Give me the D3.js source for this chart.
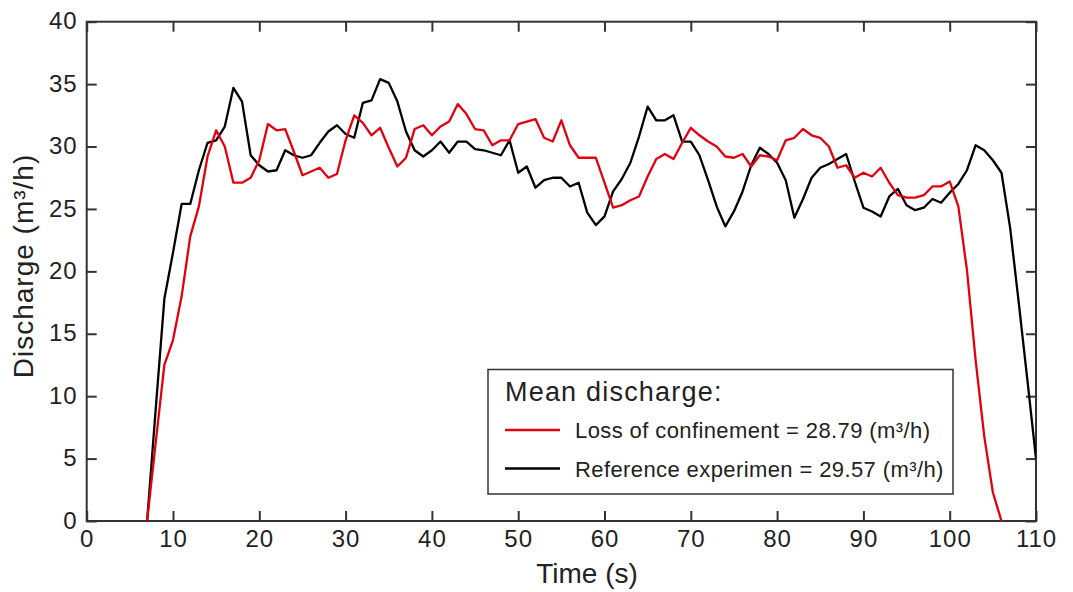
<!DOCTYPE html>
<html>
<head>
<meta charset="utf-8">
<script src="https://cdn.jsdelivr.net/npm/d3@7"></script>
<style>
  body { margin: 0; background: #fff; }
  text { font-family: "Liberation Sans", Arial, Helvetica, sans-serif; fill: #222; }
</style>
</head>
<body>
<svg id="chart"></svg>
<script>
// time in seconds, one sample per second
const timeLoss = d3.range(7, 107);
const lossValues = [
  0, 6.3, 12.5, 14.5, 18.0, 22.8, 25.2, 29.2, 31.3, 30.0,
  27.1, 27.1, 27.5, 28.9, 31.8, 31.3, 31.4, 29.6, 27.7, 28.0,
  28.3, 27.5, 27.8, 30.5, 32.5, 31.9, 30.9, 31.5, 29.9, 28.4,
  29.1, 31.4, 31.7, 30.9, 31.6, 32.0, 33.4, 32.6, 31.4, 31.3,
  30.1, 30.5, 30.5, 31.8, 32.0, 32.2, 30.7, 30.4, 32.1, 30.1,
  29.1, 29.1, 29.1, 27.1, 25.1, 25.3, 25.7, 26.0, 27.6, 29.0,
  29.4, 29.0, 30.3, 31.5, 30.9, 30.4, 30.0, 29.2, 29.1, 29.4,
  28.4, 29.3, 29.2, 28.9, 30.5, 30.7, 31.4, 30.9, 30.7, 30.0,
  28.3, 28.5, 27.5, 27.9, 27.6, 28.3, 27.1, 26.1, 25.9, 25.9,
  26.1, 26.8, 26.8, 27.2, 25.2, 20.1, 12.9, 6.8, 2.3, 0
];
const timeRef = d3.range(7, 111);
const refValues = [
  0, 9.0, 17.8, 21.5, 25.4, 25.4, 28.1, 30.3, 30.5, 31.6,
  34.7, 33.6, 29.3, 28.5, 28.0, 28.1, 29.7, 29.3, 29.1, 29.3,
  30.3, 31.2, 31.7, 31.0, 30.7, 33.5, 33.7, 35.4, 35.1, 33.6,
  31.2, 29.7, 29.2, 29.7, 30.4, 29.5, 30.4, 30.4, 29.8, 29.7,
  29.5, 29.3, 30.5, 27.9, 28.4, 26.7, 27.3, 27.5, 27.5, 26.8,
  27.1, 24.7, 23.7, 24.4, 26.4, 27.4, 28.7, 30.8, 33.2, 32.1,
  32.1, 32.5, 30.4, 30.4, 29.3, 27.3, 25.2, 23.6, 24.8, 26.4,
  28.5, 29.9, 29.4, 28.7, 27.3, 24.3, 25.8, 27.5, 28.3, 28.6,
  29.0, 29.4, 27.2, 25.1, 24.8, 24.4, 26.0, 26.6, 25.3, 24.9,
  25.1, 25.8, 25.5, 26.3, 27.0, 28.1, 30.1, 29.7, 28.9, 27.9,
  23.5, 17.5, 11.3, 5.0
];
const xTicks = d3.range(0, 111, 10);
const yTicks = d3.range(0, 41, 5);
const legendTitle = "Mean discharge:";
const legendLabels = ["Loss of confinement = 28.79 (m³/h)", "Reference experimen = 29.57 (m³/h)"];
const seriesColors = ["#e3000f", "#000000"];

const width = 1073, height = 592;
const margin = {left: 86.7, right: 37, top: 21.7, bottom: 71};
const svg = d3.select("#chart").attr("width", width).attr("height", height);

const x = d3.scaleLinear().domain([0, 110]).range([margin.left, width - margin.right]);
const y = d3.scaleLinear().domain([0, 40]).range([height - margin.bottom, margin.top]);

const axisColor = "#333";

// bottom axis, ticks pointing inside
const gx = svg.append("g")
  .attr("transform", "translate(0," + y(0) + ")")
  .call(d3.axisBottom(x).tickValues(xTicks).tickSize(-10).tickPadding(9));
gx.select(".domain").remove();
gx.selectAll("text").style("font-size", "24px").style("letter-spacing", "1px").attr("fill", "#222");

// top ticks
const gxTop = svg.append("g")
  .attr("transform", "translate(0," + y(40) + ")")
  .call(d3.axisTop(x).tickValues(xTicks).tickSize(-10).tickFormat(""));
gxTop.select(".domain").remove();

// left axis
const gy = svg.append("g")
  .attr("transform", "translate(" + x(0) + ",0)")
  .call(d3.axisLeft(y).tickValues(yTicks).tickSize(-10).tickPadding(9));
gy.select(".domain").remove();
gy.selectAll("text").style("font-size", "24px").style("letter-spacing", "1px")
  .attr("fill", "#222").attr("dy", "0.3em");

// right ticks
const gyRight = svg.append("g")
  .attr("transform", "translate(" + x(110) + ",0)")
  .call(d3.axisRight(y).tickValues(yTicks).tickSize(-10).tickFormat(""));
gyRight.select(".domain").remove();

svg.selectAll(".tick line").attr("stroke", axisColor).attr("stroke-width", 2);

// frame
svg.append("rect")
  .attr("x", x(0)).attr("y", y(40))
  .attr("width", x(110) - x(0)).attr("height", y(0) - y(40))
  .attr("fill", "none").attr("stroke", axisColor).attr("stroke-width", 2);

// lines
const line = d3.line().x(d => x(d[0])).y(d => y(d[1]));
svg.append("clipPath").attr("id", "plotclip")
  .append("rect")
  .attr("x", x(0)).attr("y", y(40))
  .attr("width", x(110) - x(0)).attr("height", y(0) - y(40));

svg.append("path")
  .datum(d3.zip(timeRef, refValues))
  .attr("d", line)
  .attr("fill", "none").attr("stroke", seriesColors[1]).attr("stroke-width", 2.3)
  .attr("stroke-linejoin", "round")
  .attr("clip-path", "url(#plotclip)");

svg.append("path")
  .datum(d3.zip(timeLoss, lossValues))
  .attr("d", line)
  .attr("fill", "none").attr("stroke", seriesColors[0]).attr("stroke-width", 2.3)
  .attr("stroke-linejoin", "round")
  .attr("clip-path", "url(#plotclip)");

// axis titles
svg.append("text")
  .attr("x", 587).attr("y", 583)
  .attr("text-anchor", "middle")
  .style("font-size", "28px")
  .text("Time (s)");

svg.append("text")
  .attr("transform", "translate(33,266) rotate(-90)")
  .attr("text-anchor", "middle")
  .style("font-size", "28px")
  .style("letter-spacing", "1px")
  .text("Discharge (m³/h)");

// legend
const legend = svg.append("g");
legend.append("rect")
  .attr("x", 488).attr("y", 369.5).attr("width", 465).attr("height", 124.5)
  .attr("fill", "#fff").attr("stroke", axisColor).attr("stroke-width", 1.5);
legend.append("text")
  .attr("x", 505).attr("y", 401)
  .style("font-size", "27px")
  .style("letter-spacing", "1.2px")
  .text(legendTitle);
legendLabels.forEach((label, i) => {
  const ly = 430 + i * 38.5;
  legend.append("line")
    .attr("x1", 505).attr("x2", 560).attr("y1", ly).attr("y2", ly)
    .attr("stroke", seriesColors[i]).attr("stroke-width", 2.3);
  legend.append("text")
    .attr("x", 575).attr("y", ly + 8)
    .style("font-size", "22px")
    .style("letter-spacing", "0.4px")
    .text(label);
});
</script>
</body>
</html>
